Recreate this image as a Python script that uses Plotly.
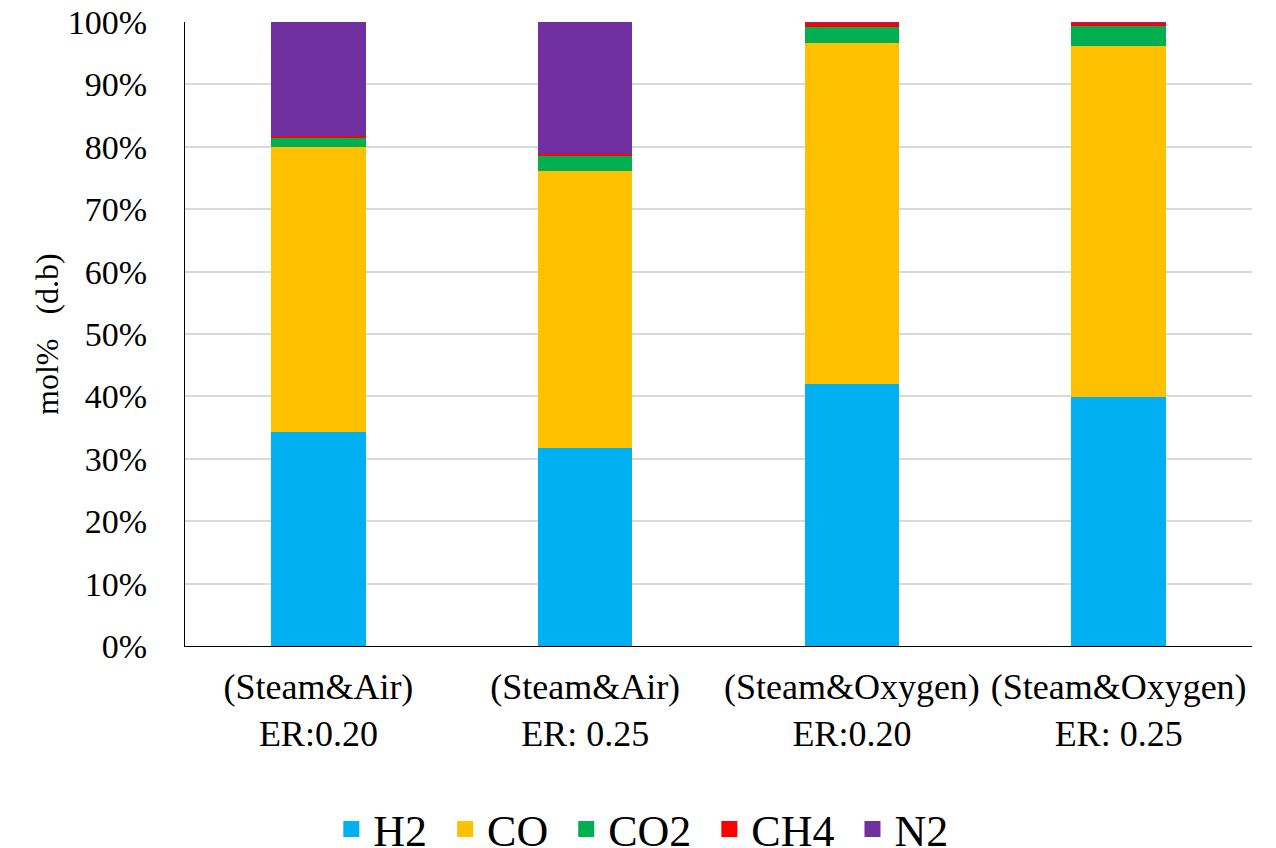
import plotly.graph_objects as go

categories = ["(Steam&Air)<br>ER:0.20", "(Steam&Air)<br>ER: 0.25",
              "(Steam&Oxygen)<br>ER:0.20", "(Steam&Oxygen)<br>ER: 0.25"]
h2 = [34.3, 31.7, 42.0, 39.9]
co = [45.7, 44.5, 54.7, 56.3]
co2 = [1.5, 2.4, 2.5, 3.1]
ch4 = [0.3, 0.3, 0.7, 0.6]
n2 = [18.2, 21.1, 0.1, 0.1]

series = [("H2", h2, "#00B0F0"), ("CO", co, "#FFC000"), ("CO2", co2, "#00B050"),
          ("CH4", ch4, "#FF0000"), ("N2", n2, "#7030A0")]

fig = go.Figure()
for name, vals, color in series:
    fig.add_trace(go.Bar(x=categories, y=vals, name=name, marker_color=color,
                         marker_line_width=0, showlegend=False, legendgroup=name))
# legend entries with larger square swatches
for name, vals, color in series:
    fig.add_trace(go.Scatter(x=[None], y=[None], mode="markers", name=name + "\u00a0",
                             legendgroup=name,
                             marker=dict(symbol="square", size=22, color=color)))

FAM = "Liberation Serif"
tick_font = dict(family=FAM, size=34, color="black")
cat_font = dict(family=FAM, size=36, color="black")
fig.update_layout(
    barmode="stack", bargap=0.645,
    width=1260, height=840,
    margin=dict(l=177, r=16, t=14, b=202),
    paper_bgcolor="white", plot_bgcolor="white",
    font=tick_font,
    showlegend=True,
    legend=dict(orientation="h", x=0.507, xanchor="center", xref="container",
                y=0.022, yanchor="middle", yref="container",
                font=dict(family=FAM, size=44, color="black"), itemwidth=34,
                traceorder="normal"),
    xaxis=dict(showline=True, linecolor="black", linewidth=1,
               ticks="outside", ticklen=9, tickcolor="rgba(0,0,0,0)",
               tickfont=cat_font, automargin=False),
    yaxis=dict(range=[0, 100], dtick=10, ticksuffix="%", showgrid=True,
               gridcolor="#d9d9d9", gridwidth=1.5, showline=True, linecolor="black",
               linewidth=1, zeroline=False, tickfont=tick_font, automargin=False,
               ticks="outside", ticklen=30, tickcolor="rgba(0,0,0,0)",
               ticklabeloverflow="allow"),
    annotations=[dict(text="mol%\u00a0\u00a0\u00a0(d.b)", xref="paper", yref="paper",
                      x=0, y=0.5, xanchor="center", yanchor="middle", xshift=-138,
                      textangle=-90, showarrow=False,
                      font=dict(family=FAM, size=32, color="black"))],
)
fig.write_html("out.html")
